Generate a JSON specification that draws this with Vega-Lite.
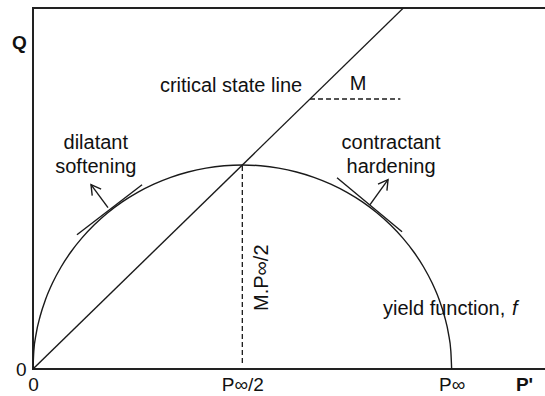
{
  "$schema": "https://vega.github.io/schema/vega-lite/v6.json",
  "width": 530,
  "height": 361,
  "autosize": {"type": "none"},
  "padding": {"left": 33, "top": 8, "right": 0, "bottom": 27},
  "config": {
    "view": {"stroke": "#222", "strokeWidth": 2},
    "font": "Liberation Sans",
    "text": {"font": "Liberation Sans", "fontSize": 20, "color": "#111"},
    "line": {"color": "#1a1a1a", "strokeWidth": 1.4}
  },
  "datasets": {
    "paths": [
      {"part": "yield", "seq": 0, "p": 0, "q": 0},
      {"part": "yield", "seq": 1, "p": 0.0038, "q": 0.0872},
      {"part": "yield", "seq": 2, "p": 0.0152, "q": 0.1736},
      {"part": "yield", "seq": 3, "p": 0.0341, "q": 0.2588},
      {"part": "yield", "seq": 4, "p": 0.0603, "q": 0.342},
      {"part": "yield", "seq": 5, "p": 0.0937, "q": 0.4226},
      {"part": "yield", "seq": 6, "p": 0.134, "q": 0.5},
      {"part": "yield", "seq": 7, "p": 0.1808, "q": 0.5736},
      {"part": "yield", "seq": 8, "p": 0.234, "q": 0.6428},
      {"part": "yield", "seq": 9, "p": 0.2929, "q": 0.7071},
      {"part": "yield", "seq": 10, "p": 0.3572, "q": 0.766},
      {"part": "yield", "seq": 11, "p": 0.4264, "q": 0.8192},
      {"part": "yield", "seq": 12, "p": 0.5, "q": 0.866},
      {"part": "yield", "seq": 13, "p": 0.5774, "q": 0.9063},
      {"part": "yield", "seq": 14, "p": 0.658, "q": 0.9397},
      {"part": "yield", "seq": 15, "p": 0.7412, "q": 0.9659},
      {"part": "yield", "seq": 16, "p": 0.8264, "q": 0.9848},
      {"part": "yield", "seq": 17, "p": 0.9128, "q": 0.9962},
      {"part": "yield", "seq": 18, "p": 1, "q": 1},
      {"part": "yield", "seq": 19, "p": 1.0872, "q": 0.9962},
      {"part": "yield", "seq": 20, "p": 1.1736, "q": 0.9848},
      {"part": "yield", "seq": 21, "p": 1.2588, "q": 0.9659},
      {"part": "yield", "seq": 22, "p": 1.342, "q": 0.9397},
      {"part": "yield", "seq": 23, "p": 1.4226, "q": 0.9063},
      {"part": "yield", "seq": 24, "p": 1.5, "q": 0.866},
      {"part": "yield", "seq": 25, "p": 1.5736, "q": 0.8192},
      {"part": "yield", "seq": 26, "p": 1.6428, "q": 0.766},
      {"part": "yield", "seq": 27, "p": 1.7071, "q": 0.7071},
      {"part": "yield", "seq": 28, "p": 1.766, "q": 0.6428},
      {"part": "yield", "seq": 29, "p": 1.8192, "q": 0.5736},
      {"part": "yield", "seq": 30, "p": 1.866, "q": 0.5},
      {"part": "yield", "seq": 31, "p": 1.9063, "q": 0.4226},
      {"part": "yield", "seq": 32, "p": 1.9397, "q": 0.342},
      {"part": "yield", "seq": 33, "p": 1.9659, "q": 0.2588},
      {"part": "yield", "seq": 34, "p": 1.9848, "q": 0.1736},
      {"part": "yield", "seq": 35, "p": 1.9962, "q": 0.0872},
      {"part": "yield", "seq": 36, "p": 2, "q": 0},
      {"part": "csl", "seq": 0, "p": 0, "q": 0},
      {"part": "csl", "seq": 1, "p": 1.769, "q": 1.769},
      {"part": "tangent1", "seq": 0, "p": 0.21, "q": 0.658},
      {"part": "tangent1", "seq": 1, "p": 0.521, "q": 0.903},
      {"part": "shaft1", "seq": 0, "p": 0.3583, "q": 0.7907},
      {"part": "shaft1", "seq": 1, "p": 0.2771, "q": 0.9034},
      {"part": "head1", "seq": 0, "p": 0.2829, "q": 0.85},
      {"part": "head1", "seq": 1, "p": 0.2771, "q": 0.9034},
      {"part": "head1", "seq": 2, "p": 0.3254, "q": 0.8819},
      {"part": "tangent2", "seq": 0, "p": 1.4524, "q": 0.9377},
      {"part": "tangent2", "seq": 1, "p": 1.763, "q": 0.673},
      {"part": "shaft2", "seq": 0, "p": 1.6101, "q": 0.8054},
      {"part": "shaft2", "seq": 1, "p": 1.6961, "q": 0.9279},
      {"part": "head2", "seq": 0, "p": 1.6483, "q": 0.9059},
      {"part": "head2", "seq": 1, "p": 1.6961, "q": 0.9279},
      {"part": "head2", "seq": 2, "p": 1.6909, "q": 0.8745}
    ],
    "guides": [
      {"part": "peak", "seq": 0, "p": 1, "q": 0.03},
      {"part": "peak", "seq": 1, "p": 1, "q": 1},
      {"part": "slope", "seq": 0, "p": 1.3235, "q": 1.3235},
      {"part": "slope", "seq": 1, "p": 1.755, "q": 1.3235}
    ],
    "notes": [
      {"label": "critical state line", "p": 0.946, "q": 1.359},
      {"label": "M", "p": 1.553, "q": 1.369},
      {"label": "dilatant", "p": 0.3, "q": 1.08},
      {"label": "softening", "p": 0.3, "q": 0.962},
      {"label": "contractant", "p": 1.7105, "q": 1.08},
      {"label": "hardening", "p": 1.7105, "q": 0.962}
    ]
  },
  "encoding": {
    "x": {
      "field": "p",
      "type": "quantitative",
      "scale": {"domain": [0, 2.532], "nice": false, "zero": false},
      "axis": {
        "values": [0, 1, 2],
        "labelExpr": "datum.value == 0 ? '0' : datum.value == 1 ? 'P∞/2' : 'P∞'",
        "ticks": false,
        "domain": false,
        "grid": false,
        "labelFont": "Liberation Sans",
        "labelFontSize": 19,
        "labelColor": "#111",
        "labelBaseline": "top",
        "labelPadding": 6,
        "labelFlush": false,
        "labelOverlap": false,
        "title": "P'",
        "titleFont": "Liberation Sans",
        "titleFontSize": 19,
        "titleFontWeight": "bold",
        "titleColor": "#111",
        "titleX": 491,
        "titleY": 6,
        "titleAlign": "center",
        "titleBaseline": "top"
      }
    },
    "y": {
      "field": "q",
      "type": "quantitative",
      "scale": {"domain": [0, 1.7696], "nice": false, "zero": false},
      "axis": {
        "values": [0],
        "labelExpr": "'0'",
        "ticks": false,
        "domain": false,
        "grid": false,
        "labelFont": "Liberation Sans",
        "labelFontSize": 19,
        "labelColor": "#111",
        "labelPadding": 7,
        "labelFlush": false,
        "title": "Q",
        "titleFont": "Liberation Sans",
        "titleFontSize": 19,
        "titleFontWeight": "bold",
        "titleColor": "#111",
        "titleAngle": 0,
        "titleX": -14,
        "titleY": 34,
        "titleAlign": "center",
        "titleBaseline": "middle"
      }
    }
  },
  "layer": [
    {
      "data": {"name": "paths"},
      "mark": {"type": "line", "interpolate": "monotone", "clip": true},
      "transform": [{"filter": "datum.part == 'yield'"}],
      "encoding": {"order": {"field": "seq"}}
    },
    {
      "data": {"name": "paths"},
      "mark": {"type": "line", "clip": true},
      "transform": [{"filter": "datum.part != 'yield'"}],
      "encoding": {"detail": {"field": "part"}, "order": {"field": "seq"}}
    },
    {
      "data": {"name": "guides"},
      "mark": {"type": "line", "strokeDash": [5, 3], "strokeWidth": 1.3},
      "encoding": {"detail": {"field": "part"}, "order": {"field": "seq"}}
    },
    {
      "data": {"name": "notes"},
      "mark": {"type": "text", "align": "center", "baseline": "alphabetic"},
      "encoding": {"text": {"field": "label"}}
    },
    {
      "data": {"values": [{"label": "yield function,", "p": 1.672, "q": 0.266}]},
      "mark": {"type": "text", "align": "left", "baseline": "alphabetic"},
      "encoding": {"text": {"field": "label"}}
    },
    {
      "data": {"values": [{"label": "f", "p": 2.2886, "q": 0.266}]},
      "mark": {"type": "text", "align": "left", "baseline": "alphabetic", "fontStyle": "italic"},
      "encoding": {"text": {"field": "label"}}
    },
    {
      "data": {"values": [{"label": "M.P∞/2", "p": 1.094, "q": 0.4475}]},
      "mark": {"type": "text", "align": "center", "baseline": "middle", "angle": 270},
      "encoding": {"text": {"field": "label"}}
    }
  ]
}
